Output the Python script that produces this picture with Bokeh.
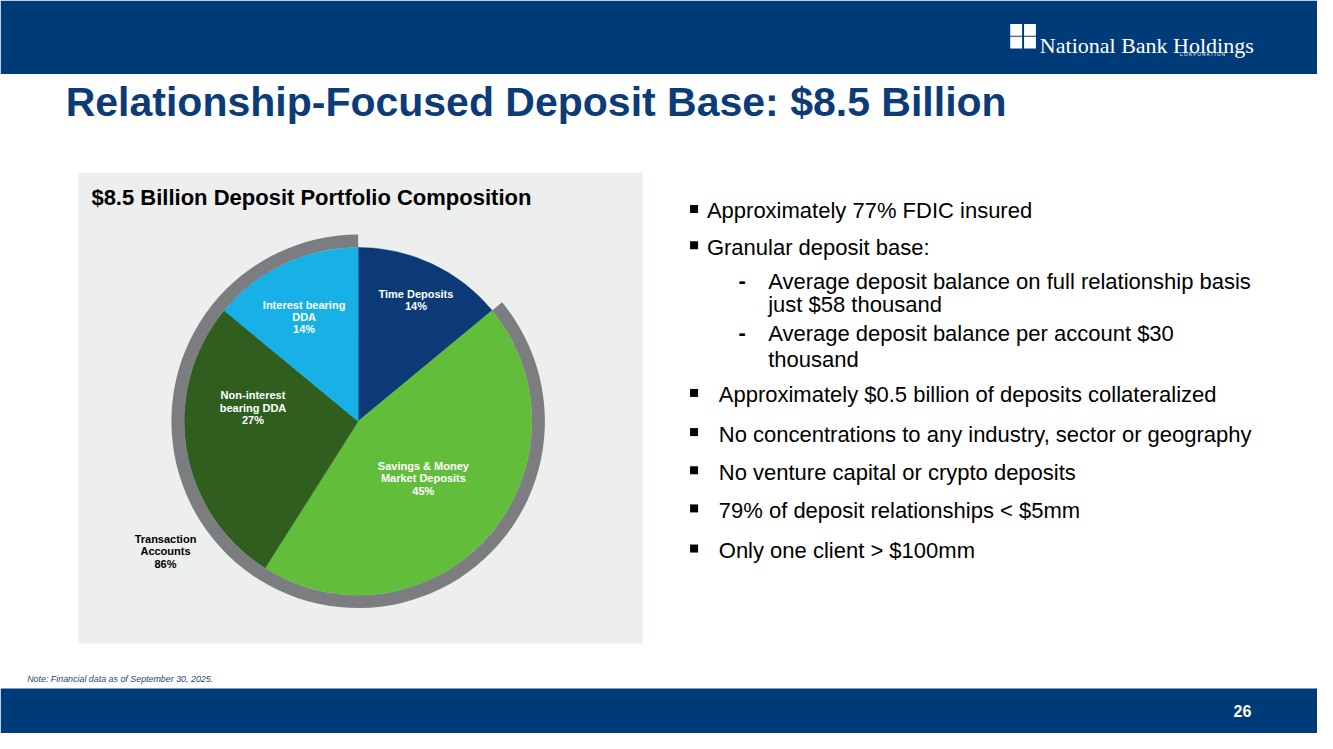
import math
from bokeh.plotting import figure
from bokeh.models import Range1d, ColumnDataSource
from bokeh.embed import file_html
from bokeh.resources import INLINE
from bokeh.core.properties import value

# ---------------- data ----------------
categories = ["Time Deposits", "Savings & Money Market Deposits",
              "Non-interest bearing DDA", "Interest bearing DDA"]
shares = [14, 45, 27, 14]
label_names = [["Time Deposits"], ["Savings & Money", "Market Deposits"],
               ["Non-interest", "bearing DDA"], ["Interest bearing", "DDA"]]
slice_colors = ["#0B3A76", "#62BD3A", "#2F5E1F", "#17B1E7"]
group_members = ["Savings & Money Market Deposits", "Non-interest bearing DDA",
                 "Interest bearing DDA"]
group_label = ["Transaction", "Accounts"]

title = "Relationship-Focused Deposit Base: $8.5 Billion"
panel_title = "$8.5 Billion Deposit Portfolio Composition"
bullets_top = ["Approximately 77% FDIC insured", "Granular deposit base:"]
sub_bullets = [["Average deposit balance on full relationship basis", "just $58 thousand"],
               ["Average deposit balance per account $30", "thousand"]]
bullets_bottom = ["Approximately $0.5 billion of deposits collateralized",
                  "No concentrations to any industry, sector or geography",
                  "No venture capital or crypto deposits",
                  "79% of deposit relationships < $5mm",
                  "Only one client > $100mm"]
note = "Note: Financial data as of September 30, 2025."
page_no = "26"

# ---------------- layout ----------------
W, H = 1317, 733          # figure size (fits the window with the 8px margin)
RW, RH = 1333, 749        # slide coordinate system
NAVY = "#003B79"
FONT = value("Liberation Sans")


def Y(y):
    return RH - y


p = figure(width=W, height=H, output_backend="svg", toolbar_location=None,
           x_range=Range1d(0, RW), y_range=Range1d(0, RH),
           x_axis_location=None, y_axis_location=None, min_border=0)
p.grid.visible = False
p.outline_line_color = None
p.background_fill_color = "white"
p.border_fill_color = "white"

# bands and panel
p.quad(left=0, right=RW, top=Y(0), bottom=Y(75), fill_color=NAVY, line_color=None)
p.quad(left=0, right=RW, top=Y(703), bottom=Y(RH), fill_color=NAVY, line_color=None)
p.quad(left=79, right=650, top=Y(176), bottom=Y(657), fill_color="#EDEEEE", line_color=None)

# logo
for dx, dy in [(0, 0), (14, 0), (0, 13), (14, 13)]:
    p.quad(left=1022 + dx, right=1034 + dx, top=Y(24 + dy), bottom=Y(36 + dy),
           fill_color="white", line_color=None)
p.text(x=[1052], y=[Y(46)], text=["National Bank Holdings"], text_font=value("Liberation Serif"),
       text_font_size="22px", text_color="white", text_baseline="alphabetic")
p.text(x=[1240], y=[Y(55)], text=["C O R P O R A T I O N"], text_font=FONT, text_font_size="4.5px",
       text_color="white", text_align="right", text_baseline="middle")

# title
p.text(x=[66], y=[Y(104)], text=[title], text_font=FONT, text_font_style="bold",
       text_font_size="41px", text_color="#0C3C78", text_baseline="middle")
p.text(x=[92], y=[Y(201)], text=[panel_title], text_font=FONT, text_font_style="bold",
       text_font_size="22px", text_color="#000000", text_baseline="middle")

# pie
CX, CY, R, RING = 362, 430, 176, 13
starts, ends, cum = [], [], 0
for s in shares:
    ends.append(math.radians(90 - cum / 100 * 360))
    starts.append(math.radians(90 - (cum + s) / 100 * 360))
    cum += s
src = ColumnDataSource(dict(cat=categories, share=shares, start=starts, end=ends, color=slice_colors))
p.wedge(x=CX, y=Y(CY), radius=R, start_angle="start", end_angle="end",
        fill_color="color", line_color="color", line_width=0.5, source=src)

idx = [categories.index(m) for m in group_members]
ring_start = min(starts[i] for i in idx)
ring_end = max(ends[i] for i in idx)
p.annular_wedge(x=CX, y=Y(CY), inner_radius=R, outer_radius=R + RING,
                start_angle=ring_start, end_angle=ring_end,
                fill_color="#7B7D81", line_color=None)

# slice labels: (radius fraction, angle offset deg)
label_layout = [(0.78, 0), (0.50, 0), (0.61, -16.5), (0.68, 2)]
LH = 12.6
lab_x, lab_y, lab_t = [], [], []
for i, cat in enumerate(categories):
    mid = math.degrees((starts[i] + ends[i]) / 2) + label_layout[i][1]
    r = label_layout[i][0] * R
    lx = CX + r * math.cos(math.radians(mid))
    ly = CY - r * math.sin(math.radians(mid))
    lines = label_names[i] + [f"{shares[i]}%"]
    n = len(lines)
    for j, t in enumerate(lines):
        lab_x.append(lx)
        lab_y.append(Y(ly + (j - (n - 1) / 2) * LH))
        lab_t.append(t)
p.text(x=lab_x, y=lab_y, text=lab_t, text_font=FONT, text_font_style="bold",
       text_font_size="11px", text_color="white", text_align="center", text_baseline="middle")

group_share = sum(shares[i] for i in idx)
glines = group_label + [f"{group_share}%"]
gx, gy = 167, 563
p.text(x=[gx] * len(glines), y=[Y(gy + (j - 1) * LH) for j in range(len(glines))], text=glines,
       text_font=FONT, text_font_style="bold", text_font_size="11px", text_color="#000000",
       text_align="center", text_baseline="middle")

# bullets
TS = "22px"
bx, by, bt = [], [], []
sq_y = []
top_y = [215, 252]
for t, yy in zip(bullets_top, top_y):
    sq_y.append(Y(yy - 2))
    bx.append(715); by.append(Y(yy)); bt.append(t)
sub_y = [[287, 311], [340, 367]]
dash_y = []
for lines, ys in zip(sub_bullets, sub_y):
    dash_y.append(Y(ys[0] - 1))
    for t, yy in zip(lines, ys):
        bx.append(777); by.append(Y(yy)); bt.append(t)
bot_y = [403, 443, 482, 521, 562]
for t, yy in zip(bullets_bottom, bot_y):
    sq_y.append(Y(yy - 2))
    bx.append(727); by.append(Y(yy)); bt.append(t)

p.scatter(x=[702] * len(sq_y), y=sq_y, marker="square", size=8, fill_color="black", line_color=None)
p.text(x=[747] * len(dash_y), y=dash_y, text=["-"] * len(dash_y), text_font=FONT, text_font_size=TS,
       text_font_style="bold", text_color="#000000", text_baseline="middle")
p.text(x=bx, y=by, text=bt, text_font=FONT, text_font_size=TS,
       text_color="#000000", text_baseline="middle")

# note and page number
p.text(x=[27], y=[Y(693)], text=[note], text_font=FONT, text_font_style="italic",
       text_font_size="8.9px", text_color="#1F3F7A", text_baseline="middle")
p.text(x=[1266], y=[Y(726)], text=[page_no], text_font=FONT, text_font_style="bold",
       text_font_size="16px", text_color="white", text_align="right", text_baseline="middle")

open("out.html", "w").write(file_html(p, INLINE))
